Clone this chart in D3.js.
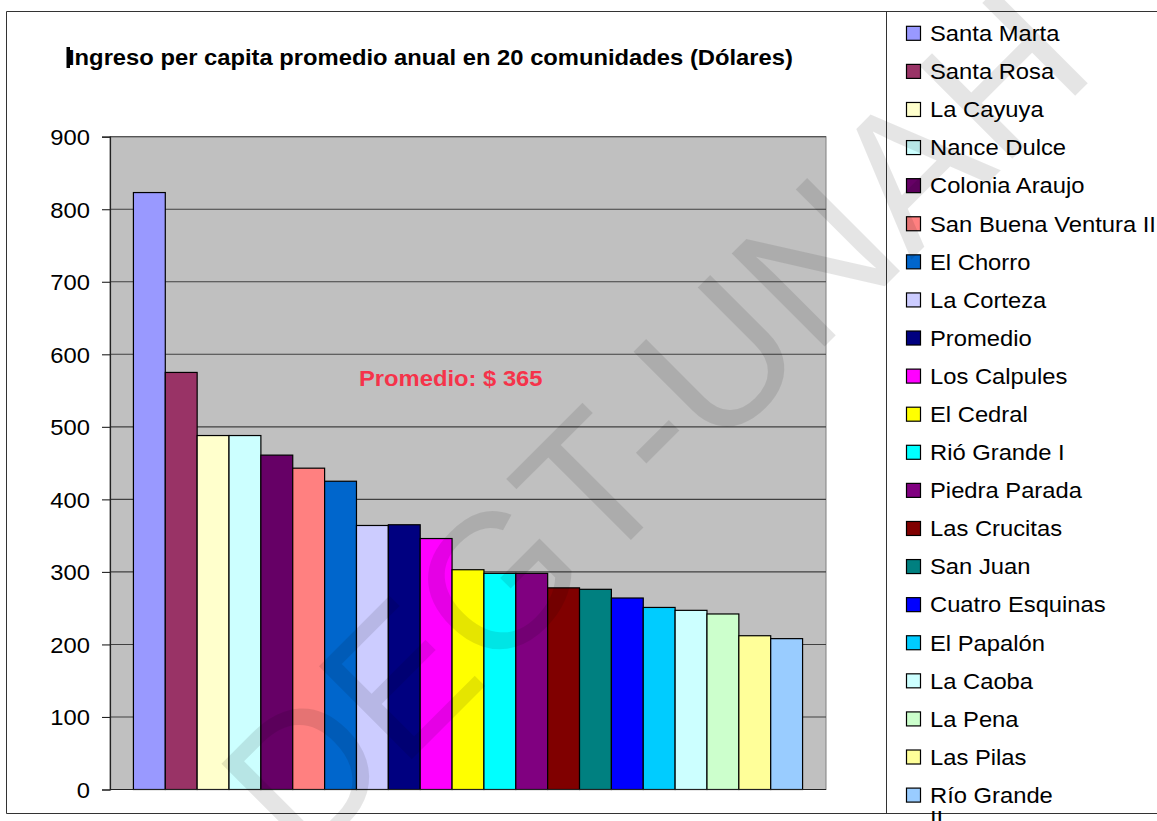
<!DOCTYPE html>
<html>
<head>
<meta charset="utf-8">
<script src="https://cdn.jsdelivr.net/npm/d3@7"></script>
<style>
html,body{margin:0;padding:0;background:#fff;}
svg{display:block;font-family:"Liberation Sans",Arial,sans-serif;}
</style>
</head>
<body>
<svg id="chart" width="1157" height="821"></svg>
<script>
const categories = ["Santa Marta","Santa Rosa","La Cayuya","Nance Dulce","Colonia Araujo","San Buena Ventura II","El Chorro","La Corteza","Promedio","Los Calpules","El Cedral","Rió Grande I","Piedra Parada","Las Crucitas","San Juan","Cuatro Esquinas","El Papalón","La Caoba","La Pena","Las Pilas","Río Grande II"];
const values = [823,575,488,488,461,443,425,364,365,346,303,298,298,278,276,264,251,247,242,212,208];
const colors = ["#9999FF","#993366","#FFFFCC","#CCFFFF","#660066","#FF8080","#0066CC","#CCCCFF","#000080","#FF00FF","#FFFF00","#00FFFF","#800080","#800000","#008080","#0000FF","#00CCFF","#CCFFFF","#CCFFCC","#FFFF99","#99CCFF"];
const yTicks = [0,100,200,300,400,500,600,700,800,900];
const titleText = "Ingreso per capita promedio anual en 20 comunidades (Dólares)";
const noteText = "Promedio: $ 365";
const watermarkText = "DEGT-UNAH";

const svg = d3.select("#chart");
const STRETCH = 1.08;
function stretch(sel){
  sel.each(function(){
    const w = this.getComputedTextLength();
    d3.select(this).attr("textLength", w*STRETCH).attr("lengthAdjust","spacingAndGlyphs");
  });
  return sel;
}

// frame
svg.append("line").attr("x1",6.5).attr("x2",1157).attr("y1",11.5).attr("y2",11.5).attr("stroke","#333").attr("stroke-width",1);
svg.append("line").attr("x1",6.5).attr("x2",1157).attr("y1",813.5).attr("y2",813.5).attr("stroke","#333").attr("stroke-width",1);
svg.append("line").attr("x1",6.5).attr("x2",6.5).attr("y1",11.5).attr("y2",813.5).attr("stroke","#333").attr("stroke-width",1);
svg.append("line").attr("x1",886.5).attr("x2",886.5).attr("y1",11.5).attr("y2",813.5).attr("stroke","#333").attr("stroke-width",1);

// scales
const plotL = 110, plotR = 826, plotT = 136.7, plotB = 789.5;
const x = d3.scaleBand().domain(categories).range([plotL, plotR]).paddingInner(0).paddingOuter(0.735);
const y = d3.scaleLinear().domain([0,900]).range([plotB, plotT]);

// plot area
svg.append("rect").attr("x",plotL).attr("y",plotT).attr("width",plotR-plotL).attr("height",plotB-plotT)
  .attr("fill","#c0c0c0").attr("stroke","#808080").attr("stroke-width",1);

// gridlines
svg.append("g").selectAll("line").data(yTicks.filter(d=>d>0)).join("line")
  .attr("x1",plotL).attr("x2",plotR).attr("y1",d=>y(d)).attr("y2",d=>y(d))
  .attr("stroke","#404040").attr("stroke-width",1.1);

// bars
svg.append("g").selectAll("rect").data(values).join("rect")
  .attr("x",(d,i)=>x(categories[i]))
  .attr("y",d=>y(d))
  .attr("width",x.bandwidth())
  .attr("height",d=>y(0)-y(d))
  .attr("fill",(d,i)=>colors[i])
  .attr("stroke","#000").attr("stroke-width",1.2);

// y axis
const yAxis = d3.axisLeft(y).tickValues(yTicks).tickSize(8).tickPadding(12).tickFormat(d3.format("d"));
const ga = svg.append("g").attr("transform",`translate(${plotL},0)`).call(yAxis);
ga.select(".domain").attr("stroke","#222").attr("stroke-width",1.2);
ga.selectAll(".tick line").attr("stroke","#222").attr("stroke-width",1.1);
ga.selectAll(".tick text").attr("font-size",22).attr("fill","#000").attr("font-family","Liberation Sans, Arial, sans-serif").attr("dy","0.36em");
stretch(ga.selectAll(".tick text"));
// x axis baseline
svg.append("line").attr("x1",plotL).attr("x2",plotR).attr("y1",y(0)).attr("y2",y(0)).attr("stroke","#222").attr("stroke-width",1.2);

// title
stretch(svg.append("text").attr("x",68).attr("y",65).attr("font-size",22).attr("font-weight","bold").attr("fill","#000").text(titleText));
svg.append("rect").attr("x",66.5).attr("y",47).attr("width",3.5).attr("height",21).attr("fill","#000");

// promedio note
stretch(svg.append("text").attr("x",359).attr("y",386).attr("font-size",22).attr("font-weight","bold").attr("fill","#f5334a").text(noteText));

// legend
const legY0 = 33.3, legStep = 38.09;
const leg = svg.append("g");
categories.forEach((c,i)=>{
  const cy = legY0 + i*legStep;
  leg.append("rect").attr("x",906.5).attr("y",cy-7).attr("width",14).attr("height",14)
    .attr("fill",colors[i]).attr("stroke","#000").attr("stroke-width",1.2);
  if (c === "Río Grande II") {
    stretch(leg.append("text").attr("x",930).attr("y",cy+7.8).attr("font-size",22).attr("fill","#000").text("Río Grande"));
    stretch(leg.append("text").attr("x",930).attr("y",cy+31).attr("font-size",22).attr("fill","#000").text("II"));
  } else {
    stretch(leg.append("text").attr("x",930).attr("y",cy+7.8).attr("font-size",22).attr("fill","#000").text(c));
  }
});

// watermark
svg.append("text").attr("transform","translate(701,470) rotate(-45)")
  .attr("text-anchor","middle").attr("font-size",191).attr("fill","#000").attr("fill-opacity",0.1)
  .text(watermarkText);
</script>
</body>
</html>
